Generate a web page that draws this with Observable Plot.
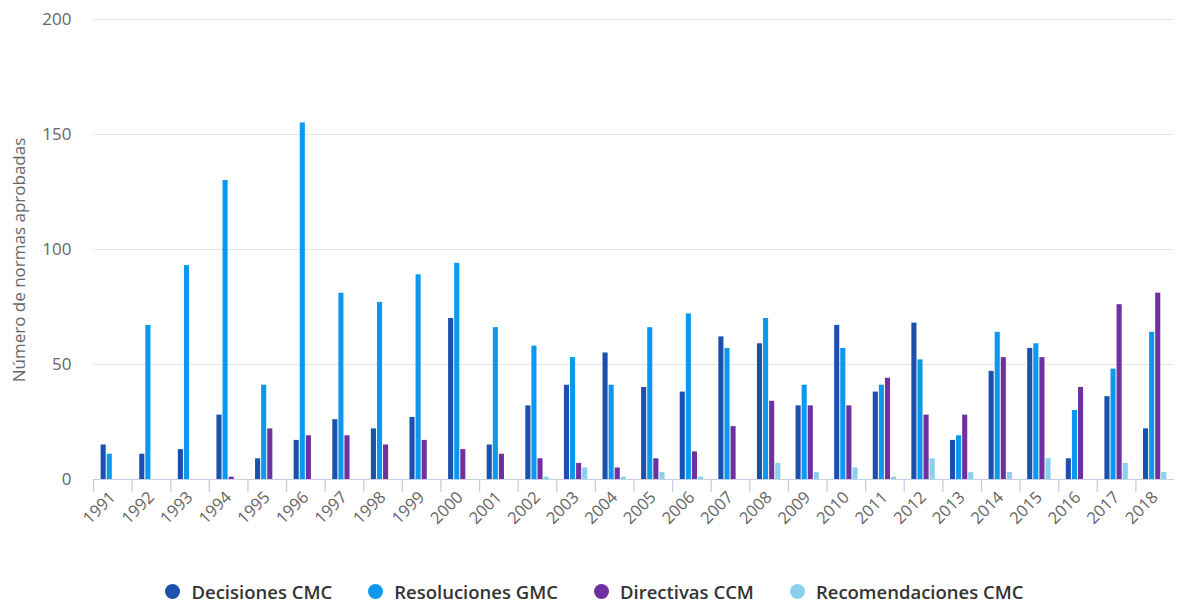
<!DOCTYPE html>
<html><head><meta charset="utf-8">
<script src="https://cdn.jsdelivr.net/npm/d3@7"></script>
<script src="https://cdn.jsdelivr.net/npm/@observablehq/plot@0.6"></script>
<style>
body{margin:0;background:#fff;font-family:"Open Sans",sans-serif;}
#wrap{position:relative;width:1177px;}
#ytitle{position:absolute;left:18px;top:260px;transform:translate(-50%,-50%) rotate(-90deg);white-space:nowrap;font-size:17px;color:#666;}
#legend{display:flex;justify-content:center;align-items:center;margin-top:24px;margin-left:12px;font-size:18.5px;font-weight:600;color:#333;}
.item{display:flex;align-items:center;margin:0 18px;}
.dot{width:15px;height:15px;border-radius:50%;margin-right:11px;}
</style></head><body><div id="wrap"><div id="chart"></div><div id="ytitle"></div></div><div id="legend"></div>
<script>
const years = [1991,1992,1993,1994,1995,1996,1997,1998,1999,2000,2001,2002,2003,2004,2005,2006,2007,2008,2009,2010,2011,2012,2013,2014,2015,2016,2017,2018];
const series = ["Decisiones CMC","Resoluciones GMC","Directivas CCM","Recomendaciones CMC"];
const colors = ["#1b50ad","#0c98ee","#7030a0","#88d0ec"];
const decisiones = [15,11,13,28,9,17,26,22,27,70,15,32,41,55,40,38,62,59,32,67,38,68,17,47,57,9,36,22];
const resoluciones = [11,67,93,130,41,155,81,77,89,94,66,58,53,41,66,72,57,70,41,57,41,52,19,64,59,30,48,64];
const directivas = [0,0,0,1,22,19,19,15,17,13,11,9,7,5,9,12,23,34,32,32,44,28,28,53,53,40,76,81];
const recomendaciones = [0,0,0,0,0,0,0,0,0,0,0,1,5,1,3,1,0,7,3,5,1,9,3,3,9,0,7,3];
const yTicks = [0,50,100,150,200];
const yTitle = "Número de normas aprobadas";

const values = [decisiones, resoluciones, directivas, recomendaciones];
const data = years.flatMap((yr, i) => series.map((s, j) => ({year: String(yr), series: s, value: values[j][i]})));

const W = 1177, H = 555, mL = 93, mR = 3, mT = 19, mB = 76;
const step = (W - mL - mR) / years.length;
const padOuter = 1.17;

const chart = Plot.plot({
  width: W, height: H,
  marginLeft: mL, marginRight: mR, marginTop: mT, marginBottom: mB,
  style: {fontFamily: "'Open Sans', sans-serif", fontSize: "16px", color: "#666", background: "#fff"},
  fx: {domain: years.map(String), padding: 0, round: false, label: null},
  x: {domain: series, paddingInner: 0, paddingOuter: padOuter, round: false, axis: null},
  y: {domain: [0, 200]},
  color: {domain: series, range: colors},
  marks: [
    Plot.gridY(yTicks.slice(1), {stroke: "#e6e6e6", strokeOpacity: 1}),
    Plot.barY(data, {fx: "year", x: "series", y: "value", fill: "series", insetLeft: 0.5, insetRight: 0.5}),
    Plot.ruleY([0], {stroke: "#c4cfe5", strokeWidth: 1.2}),
    Plot.tickX(years.map(String), {fx: d => d, x: () => series[0], dx: -(padOuter + 0.5) * step / (series.length + 2 * padOuter), y: null, insetTop: H - mT - mB, insetBottom: -13, stroke: "#c4cfe5", strokeWidth: 1.3}),
    Plot.axisY(yTicks, {tickSize: 0, tickPadding: 22, fontSize: 17, label: null}),
    Plot.axisFx({anchor: "bottom", tickSize: 0, tickPadding: 15, tickRotate: -45, fontSize: 16.5, label: null})
  ]
});
document.getElementById("chart").appendChild(chart);
document.getElementById("ytitle").textContent = yTitle;

const legend = document.getElementById("legend");
series.forEach((s, i) => {
  const it = document.createElement("div"); it.className = "item";
  const d = document.createElement("span"); d.className = "dot"; d.style.background = colors[i];
  const t = document.createElement("span"); t.textContent = s;
  it.appendChild(d); it.appendChild(t); legend.appendChild(it);
});
</script></body></html>
